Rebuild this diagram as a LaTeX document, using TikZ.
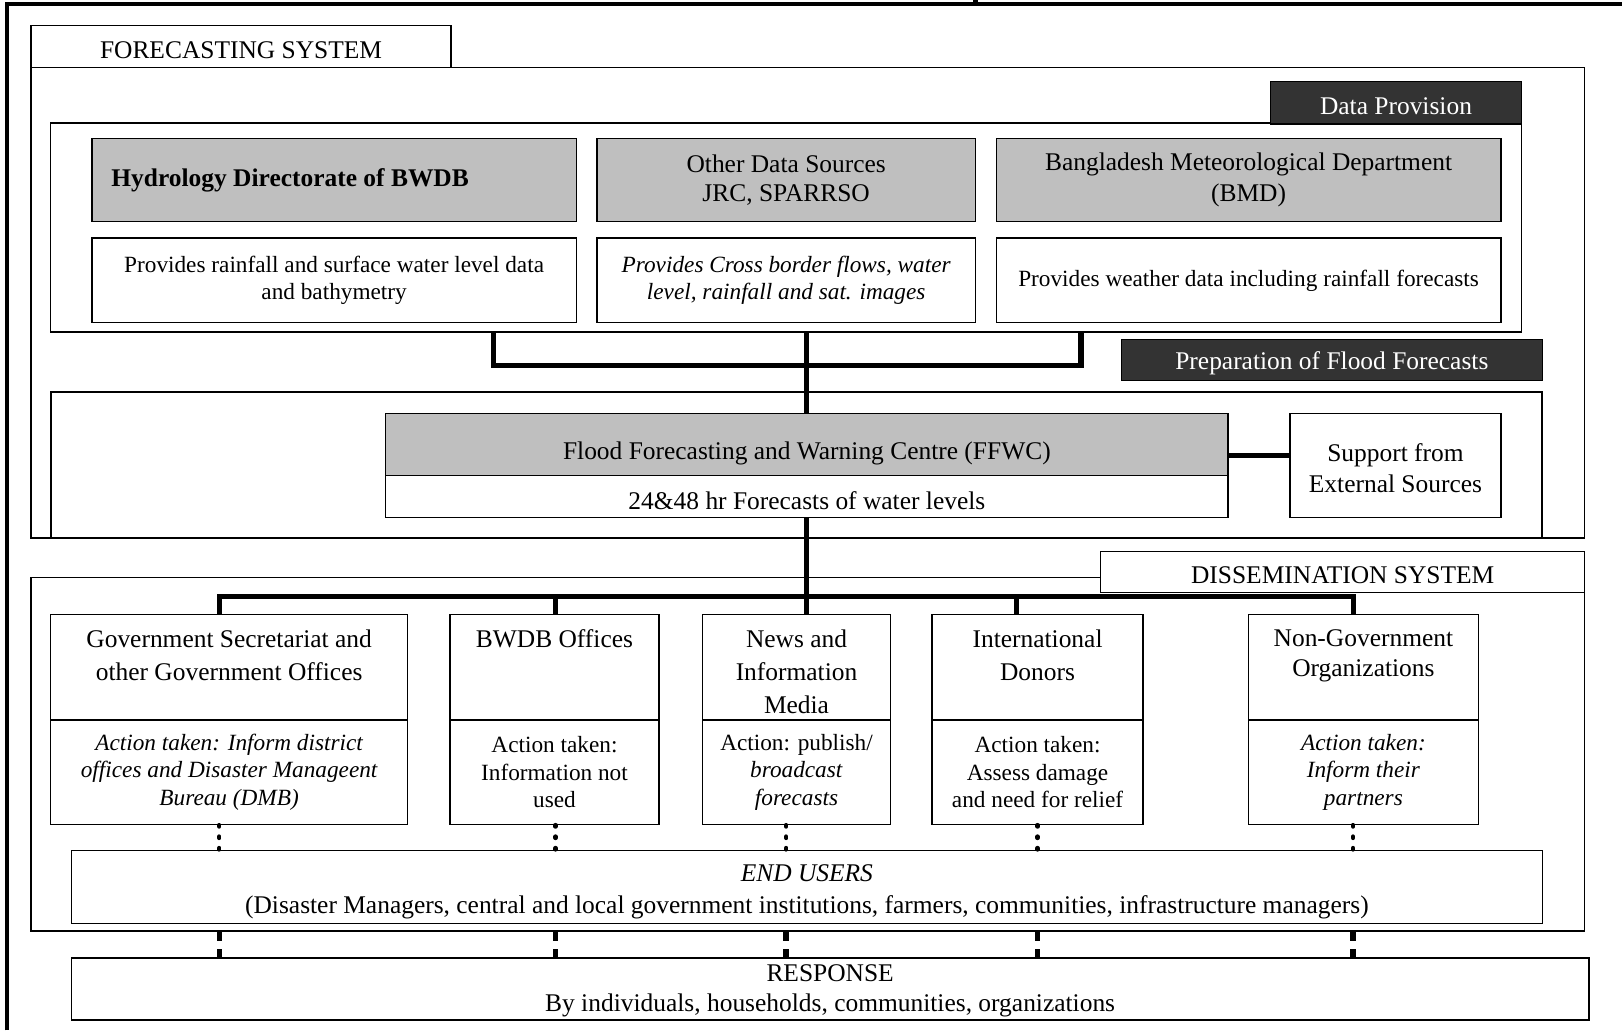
\documentclass[tikz,border=0pt]{standalone}
\usepackage{fontspec}
\setmainfont{Liberation Serif}
\usetikzlibrary{fit}
\begin{document}
\begin{tikzpicture}[x=0.02cm,y=-0.02cm]
\tikzstyle{every node}+=[inner sep=0pt,align=center]
\tikzstyle{box}=[draw=black,line width=0.7pt,fill=white]
\tikzstyle{greybox}=[box,fill=black!25]
\tikzstyle{darktab}=[box,fill=black!80]
\tikzstyle{big}=[font=\fontsize{14}{16}\selectfont]
\tikzstyle{tabtext}=[big,yshift=-0.07cm]
\tikzstyle{small}=[font=\fontsize{12.8}{14.8}\selectfont]
\tikzstyle{smallit}=[font=\fontsize{12.8}{14.8}\selectfont\itshape]
\tikzstyle{action}=[font=\fontsize{12.8}{15}\selectfont]
\tikzstyle{orgname}=[anchor=north,inner ysep=8.5pt,font=\fontsize{14}{18.2}\selectfont]
\tikzstyle{bus}=[line width=2.8pt]
\tikzstyle{dotlink}=[line width=2.4pt,line cap=round,dash pattern=on 0.8pt off 5.5pt]
\tikzstyle{dashlink}=[line width=3pt,dash pattern=on 5pt off 4.8pt]
\useasboundingbox (0,0) rectangle (1568,996);
\draw[line width=2.4pt] (7,996) -- (7,4) -- (1568,4);
\draw[line width=2.4pt] (943,0) -- (943,4);

\node[box,fit={(30,65) (1532,520)}] (fcsys) {};
\node[box,fit={(30,25) (436,65)}] (fctab) {};
\node[tabtext] (fctabtext) at (fctab) {FORECASTING SYSTEM};
\node[box,fit={(49,119) (1471,321)}] (dataprov) {};
\node[darktab,fit={(1228,79) (1471,120)}] (datatab) {};
\node[tabtext,text=white] (datatabtext) at (datatab) {Data Provision};
\node[greybox,fit={(89,134) (557,214)}] (hydro) {};
\node[font=\fontsize{14}{16}\selectfont\bfseries,anchor=west] (hydroname) at ([xshift=0.38cm]hydro.west) {Hydrology Directorate of BWDB};
\node[greybox,fit={(577,134) (943,214)}] (otherdata) {};
\node[big] (othername) at (otherdata) {Other Data Sources\\JRC, SPARRSO};
\node[greybox,fit={(963,134) (1451,214)}] (bmd) {};
\node[big,font=\fontsize{14}{17}\selectfont] (bmdname) at (bmd) {Bangladesh Meteorological Department\\(BMD)};
\node[box,fit={(89,230) (557,312)}] (hydrodesc) {};
\node[small] (hydrodesctext) at (hydrodesc) {Provides rainfall and surface water level data\\and bathymetry};
\node[box,fit={(577,230) (943,312)}] (otherdesc) {};
\node[smallit] (otherdesctext) at (otherdesc) {Provides Cross border flows, water\\level, rainfall and sat. images};
\node[box,fit={(963,230) (1451,312)}] (bmddesc) {};
\node[small] (bmddesctext) at (bmddesc) {Provides weather data including rainfall forecasts};

\node[box,line width=1pt,fit={(49,379) (1491,520)}] (prep) {};
\node[darktab,fit={(1084,328) (1491,368)}] (preptab) {};
\node[tabtext,text=white] (preptabtext) at (preptab) {Preparation of Flood Forecasts};
\node[greybox,fit={(373,400) (1187,460)}] (ffwc) {};
\node[big] (ffwcname) at ([yshift=-0.16cm]ffwc.center) {Flood Forecasting and Warning Centre (FFWC)};
\node[box,fit={(373,460) (1187,500)}] (fcast) {};
\node[big] (fcasttext) at ([yshift=-0.08cm]fcast.center) {24\&48 hr Forecasts of water levels};
\node[box,fit={(1247,400) (1451,500)}] (support) {};
\node[font=\fontsize{14}{17}\selectfont] (supporttext) at ([yshift=-0.05cm]support.center) {Support from\\External Sources};

\node[box,fit={(30,558) (1532,900)}] (dissys) {};
\node[box,fit={(1064,533) (1532,573)}] (distab) {};
\node[tabtext] (distabtext) at (distab) {DISSEMINATION SYSTEM};

\node[box,fit={(49,594) (394,696)}] (govtop) {};
\node[box,fit={(435,594) (637,696)}] (bwdbtop) {};
\node[box,fit={(679,594) (861,696)}] (newstop) {};
\node[box,fit={(901,594) (1105,696)}] (intltop) {};
\node[box,fit={(1207,594) (1429,696)}] (ngotop) {};
\node[orgname] (govname) at (govtop.north) {Government Secretariat and\\other Government Offices};
\node[orgname] (bwdbname) at (bwdbtop.north) {BWDB Offices};
\node[orgname] (newsname) at (newstop.north) {News and\\Information\\Media};
\node[orgname] (intlname) at (intltop.north) {International\\Donors};
\node[orgname,font=\fontsize{14}{16.5}\selectfont] (ngoname) at (ngotop.north) {Non-Government\\Organizations};
\node[box,fit={(49,696) (394,797)}] (govact) {};
\node[box,fit={(435,696) (637,797)}] (bwdbact) {};
\node[box,fit={(679,696) (861,797)}] (newsact) {};
\node[box,fit={(901,696) (1105,797)}] (intlact) {};
\node[box,fit={(1207,696) (1429,797)}] (ngoact) {};
\node[action,font=\fontsize{12.8}{15}\selectfont\itshape] (govacttext) at (govact) {Action taken: Inform district\\offices and Disaster Manageent\\Bureau (DMB)};
\node[action] (bwdbacttext) at (bwdbact) {Action taken:\\Information not\\used};
\node[action] (newsacttext) at (newsact) {Action: publish/\\\textit{broadcast}\\\textit{forecasts}};
\node[action] (intlacttext) at (intlact) {Action taken:\\Assess damage\\and need for relief};
\node[action,font=\fontsize{12.8}{15}\selectfont\itshape] (ngoacttext) at (ngoact) {Action taken:\\Inform their\\partners};

\node[box,fit={(69,822) (1491,893)}] (endusers) {};
\node[font=\fontsize{14}{17.6}\selectfont] (enduserstext) at ([yshift=-0.1cm]endusers.center) {\textit{END USERS}\\(Disaster Managers, central and local government institutions, farmers, communities, infrastructure managers)};
\node[box,fit={(69,926) (1536,986)}] (response) {};
\node[font=\fontsize{14}{16.5}\selectfont] (responsetext) at ([yshift=-0.03cm]response.center) {RESPONSE\\By individuals, households, communities, organizations};

\coordinate (jl) at (477,353);
\coordinate (jr) at (1045,353);
\draw[bus] (dataprov.south -| jl) -- (jl) -- (jr) -- (dataprov.south -| jr);
\draw[bus] (dataprov.south -| ffwc.north) -- (ffwc.north);
\draw[bus] ([yshift=-0.2cm]ffwc.east) -- ([yshift=-0.2cm]ffwc.east -| support.west);

\coordinate (b1) at (212,577);
\coordinate (b2) at (537,577);
\coordinate (b3) at (780,577);
\coordinate (b4) at (983,577);
\coordinate (b5) at (1308,577);
\draw[bus] (fcast.south) -- (b3);
\draw[bus] (govtop.north -| b1) -- (b1) -- (b5) -- (ngotop.north -| b5);
\foreach \i/\a in {2/bwdbtop,3/newstop,4/intltop}
  \draw[bus] (b\i) -- (b\i |- \a.north);

\coordinate (d1) at (212,0);
\coordinate (d2) at (537,0);
\coordinate (d3) at (760,0);
\coordinate (d4) at (1003,0);
\coordinate (d5) at (1308,0);
\foreach \i/\a in {1/govact,2/bwdbact,3/newsact,4/intlact,5/ngoact}{
  \draw[dotlink] (\a.south -| d\i) -- (endusers.north -| d\i);
  \draw[dashlink] (dissys.south -| d\i) -- (response.north -| d\i);
}
\end{tikzpicture}
\end{document}
